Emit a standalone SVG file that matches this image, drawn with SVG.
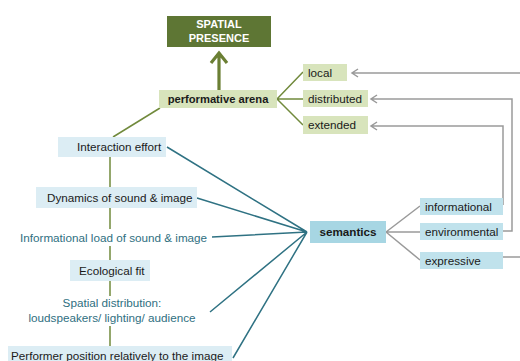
<svg xmlns="http://www.w3.org/2000/svg" width="520" height="361" viewBox="0 0 520 361">
<style>
text{font-family:"Liberation Sans",Arial,sans-serif;font-size:11.7px;fill:#1a1a1a}
.b{font-weight:bold}
.g{fill:#d8e4bc}
.lb{fill:#dcedf4}
.rb{fill:#c0e2ec}
.teal{fill:#2f6f7f}
.ol{stroke:#718a3c;stroke-width:1.5;fill:none}
.tl{stroke:#2f7283;stroke-width:1.5;fill:none}
.gr{stroke:#9a9a9a;stroke-width:1.5;fill:none}
</style>
<rect width="520" height="361" fill="#fff"/>
<g id="connectors">
<path class="ol" d="M160,108 L113,137"/>
<path class="ol" d="M110,157 V187 M110,208 V229 M110,246 V260 M110,281 V296 M110,326 V346"/>
<path class="ol" d="M277,99 L303,72 M277,99 L303,99 M277,99 L303,125"/>
<path d="M219,90 V54 M211,63 L219,53 L227,63" fill="none" stroke="#6b7f34" stroke-width="3.2"/>
<path class="tl" d="M167,147 L307,232 M197,198 L307,232 M212,237 L307,232 M210,312 L307,232 M233,358 L307,232"/>
<path class="gr" d="M386,232 L420,206 M386,232 L420,232 M386,232 L420,260"/>
<path class="gr" d="M520,73 H352 M358,69 L352,73 L358,77"/>
<path class="gr" d="M503,231 H512 V99 H371 M377,95 L371,99 L377,103"/>
<path class="gr" d="M503,205 V126 H371 M377,122 L371,126 L377,130"/>
<path class="gr" d="M503,257 H520"/>
</g>
<g id="spatial-presence">
<rect x="167" y="16" width="104" height="31" fill="#5e7634"/>
<text x="219" y="28" text-anchor="middle" class="b" style="fill:#fff;font-size:11px">SPATIAL</text>
<text x="219" y="42" text-anchor="middle" class="b" style="fill:#fff;font-size:11px">PRESENCE</text>
</g>
<g id="performative-arena">
<rect x="159" y="90" width="118" height="18" class="g"/>
<text x="218" y="103" text-anchor="middle" class="b" style="font-size:11.2px">performative arena</text>
</g>
<g id="local"><rect x="303" y="64" width="44" height="17" class="g"/><text x="308" y="77">local</text></g>
<g id="distributed"><rect x="303" y="90" width="65" height="17" class="g"/><text x="308" y="103">distributed</text></g>
<g id="extended"><rect x="303" y="116" width="65" height="18" class="g"/><text x="308" y="129">extended</text></g>
<g id="interaction-effort"><rect x="58" y="137" width="108" height="20" class="lb"/><text x="77" y="151">Interaction effort</text></g>
<g id="dynamics"><rect x="36" y="187" width="161" height="21" class="lb"/><text x="47" y="202">Dynamics of sound &amp; image</text></g>
<g id="informational-load"><text x="20" y="242" class="teal">Informational load of sound &amp; image</text></g>
<g id="ecological-fit"><rect x="70" y="260" width="80" height="21" class="lb"/><text x="79" y="275">Ecological fit</text></g>
<g id="spatial-distribution">
<text x="112" y="307" text-anchor="middle" class="teal">Spatial distribution:</text>
<text x="112" y="322" text-anchor="middle" class="teal">loudspeakers/ lighting/ audience</text>
</g>
<g id="performer-position"><rect x="8" y="346" width="224" height="20" class="lb"/><text x="11" y="360">Performer position relatively to the image</text></g>
<g id="semantics"><rect x="310" y="221" width="76" height="22" fill="#a7d6e3"/><text x="348" y="236" text-anchor="middle" class="b">semantics</text></g>
<g id="informational"><rect x="420" y="198" width="83" height="17" class="rb"/><text x="425" y="211">informational</text></g>
<g id="environmental"><rect x="420" y="223" width="83" height="17" class="rb"/><text x="425" y="236">environmental</text></g>
<g id="expressive"><rect x="420" y="252" width="83" height="17" class="rb"/><text x="425" y="265">expressive</text></g>
</svg>
